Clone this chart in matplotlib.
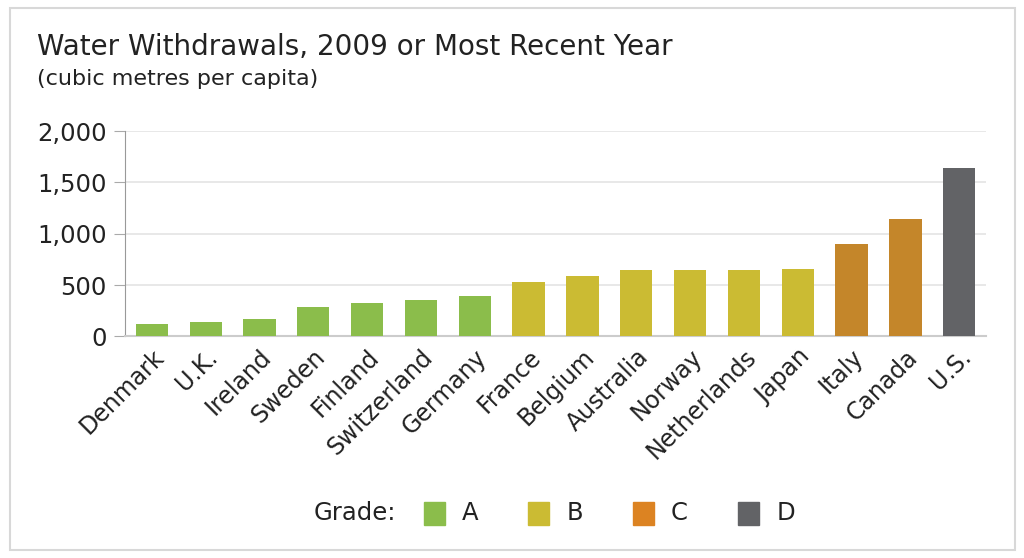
import matplotlib.pyplot as plt
from matplotlib.patches import Rectangle

# data
countries = ["Denmark", "U.K.", "Ireland", "Sweden", "Finland", "Switzerland",
             "Germany", "France", "Belgium", "Australia", "Norway",
             "Netherlands", "Japan", "Italy", "Canada", "U.S."]
withdrawals = [120, 144, 168, 291, 324, 356, 398, 535, 590, 649, 649, 649,
               659, 902, 1143, 1641]
grades = ["A", "A", "A", "A", "A", "A", "A", "B", "B", "B", "B", "B", "B",
          "C", "C", "D"]
grade_names = ["A", "B", "C", "D"]
y_ticks = [0, 500, 1000, 1500, 2000]

bar_colors = {"A": "#8bbd4b", "B": "#cbbb33", "C": "#c4862a", "D": "#626366"}
legend_colors = {"A": "#8bbd4b", "B": "#cbbb33", "C": "#dc8322", "D": "#626366"}
txt = "#222222"

fig = plt.figure(figsize=(10.24, 5.58), dpi=100)
fig.patches.append(Rectangle((0.010, 0.014), 0.981, 0.972, transform=fig.transFigure,
                             fill=False, edgecolor="#d8d8d8", linewidth=1.5))

ax = fig.add_axes([0.122, 0.397, 0.841, 0.368])
x = range(len(countries))
ax.bar(x, withdrawals, width=0.6, color=[bar_colors[g] for g in grades], zorder=3)

ax.set_xlim(-0.5, len(countries) - 0.5)
ax.set_ylim(0, 2000)
ax.set_yticks(y_ticks)
ax.set_yticklabels([f"{v:,}" for v in y_ticks], fontsize=17.5, color=txt)
ax.set_xticks(list(x))
ax.set_xticklabels(countries, rotation=45, ha="right", rotation_mode="anchor",
                   fontsize=17, color=txt)
ax.tick_params(axis="x", length=0, pad=6)
ax.tick_params(axis="y", length=8, color="#aaaaaa", pad=5)
ax.grid(axis="y", color="#e4e4e4", linewidth=1.2, zorder=0)
for s in ["top", "right"]:
    ax.spines[s].set_visible(False)
ax.spines["left"].set_color("#999999")
ax.spines["bottom"].set_color("#cccccc")
ax.spines["bottom"].set_linewidth(1.5)

fig.text(0.036, 0.915, "Water Withdrawals, 2009 or Most Recent Year",
         fontsize=20, color=txt, va="center")
fig.text(0.036, 0.858, "(cubic metres per capita)", fontsize=16, color=txt, va="center")

# legend row
fig.text(0.306, 0.080, "Grade:", fontsize=17.5, color=txt, va="center")
lx = [0.414, 0.516, 0.618, 0.721]
for g, px in zip(grade_names, lx):
    fig.patches.append(Rectangle((px, 0.059), 0.0205, 0.041, transform=fig.transFigure,
                                 color=legend_colors[g]))
    fig.text(px + 0.037, 0.080, g, fontsize=17.5, color=txt, va="center")

fig.savefig("out.png", dpi=100)
